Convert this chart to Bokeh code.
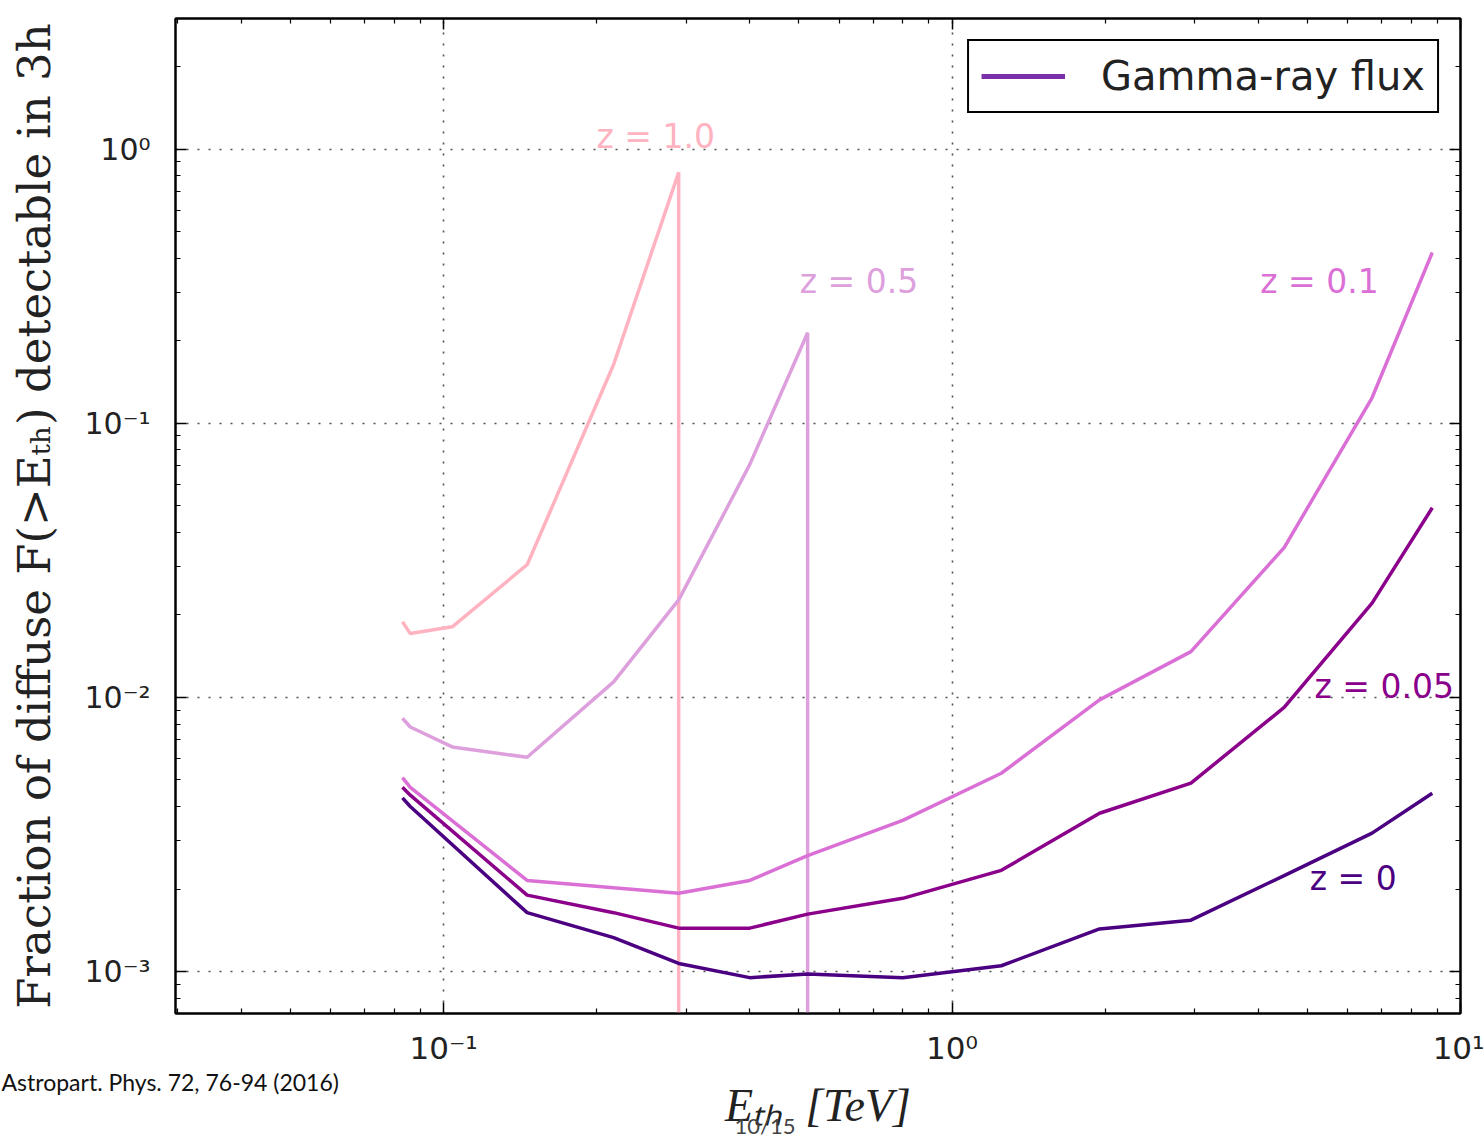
from bokeh.plotting import figure
from bokeh.models import (LogAxis, FixedTicker, Label, Range1d, CustomJSTickFormatter, Title)
from bokeh.embed import file_html
from bokeh.resources import INLINE

# ---------------- data ----------------
E_low = [0.083, 0.086, 0.146, 0.216, 0.29, 0.40, 0.52, 0.80, 1.25, 1.95, 2.95, 4.5, 6.7, 8.8]
F_z0 = [4.3e-3, 4.0e-3, 1.64e-3, 1.33e-3, 1.07e-3, 9.5e-4, 9.8e-4, 9.5e-4, 1.05e-3, 1.43e-3, 1.54e-3, 2.24e-3, 3.2e-3, 4.47e-3]
F_z005 = [4.7e-3, 4.4e-3, 1.90e-3, 1.64e-3, 1.44e-3, 1.44e-3, 1.62e-3, 1.85e-3, 2.34e-3, 3.78e-3, 4.87e-3, 9.2e-3, 0.0221, 0.0492]
F_z01 = [5.1e-3, 4.7e-3, 2.15e-3, 2.02e-3, 1.93e-3, 2.15e-3, 2.65e-3, 3.56e-3, 5.29e-3, 9.8e-3, 0.0147, 0.0352, 0.124, 0.42]

E_z05 = [0.083, 0.086, 0.104, 0.146, 0.216, 0.29, 0.40, 0.52, 0.52]
F_z05 = [8.4e-3, 7.8e-3, 6.6e-3, 6.05e-3, 0.0114, 0.0227, 0.0707, 0.214, 1e-6]

E_z10 = [0.083, 0.086, 0.104, 0.146, 0.216, 0.29, 0.29]
F_z10 = [0.0189, 0.0171, 0.0181, 0.0305, 0.164, 0.824, 1e-6]

series_names = ["z = 0", "z = 0.05", "z = 0.1", "z = 0.5", "z = 1.0"]

x_major = [0.1, 1, 10]
x_minor = [0.03, 0.04, 0.05, 0.06, 0.07, 0.08, 0.09,
           0.2, 0.3, 0.4, 0.5, 0.6, 0.7, 0.8, 0.9,
           2, 3, 4, 5, 6, 7, 8, 9]
y_major = [1e-3, 1e-2, 1e-1, 1]
y_minor = [8e-4, 9e-4,
           2e-3, 3e-3, 4e-3, 5e-3, 6e-3, 7e-3, 8e-3, 9e-3,
           2e-2, 3e-2, 4e-2, 5e-2, 6e-2, 7e-2, 8e-2, 9e-2,
           0.2, 0.3, 0.4, 0.5, 0.6, 0.7, 0.8, 0.9, 2, 3]

legend_text = "Gamma-ray flux"
x_title = "E\u209c\u2095\u2002[TeV]"
y_title = "Fraction of diffuse F(>E\u209c\u2095) detectable in 3h"
citation = "Astropart. Phys. 72, 76-94 (2016)"
page_no = "10/15"

# ---------------- styling ----------------
colors = ["#4b0082", "#8b008b", "#da70d6", "#dda0dd", "#ffb3c0"]
label_pos = [(6.15, 2.19e-3), (7.08, 0.0110), (5.28, 0.330), (0.656, 0.330), (0.2614, 1.116)]

pow_fmt = CustomJSTickFormatter(code="""
const sup = {"-": "\u207b", "0": "\u2070", "1": "\u00b9", "2": "\u00b2", "3": "\u00b3",
             "4": "\u2074", "5": "\u2075", "6": "\u2076", "7": "\u2077", "8": "\u2078", "9": "\u2079"};
const e = Math.round(Math.log10(tick));
return "10" + String(e).split("").map(c => sup[c]).join("");
""")
blank_fmt = CustomJSTickFormatter(code="return '';")

p = figure(x_axis_type="log", y_axis_type="log",
           x_range=Range1d(0.0297, 10.0), y_range=Range1d(7.03e-4, 3.0),
           frame_width=1285, frame_height=995,
           min_border_left=175, min_border_right=24, min_border_top=18, min_border_bottom=127,
           output_backend="svg", toolbar_location=None)
p.background_fill_color = "white"
p.border_fill_color = "white"
p.outline_line_color = "black"
p.outline_line_width = 2

xt = FixedTicker(ticks=x_major, minor_ticks=x_minor)
yt = FixedTicker(ticks=y_major, minor_ticks=y_minor)

def style_axis(ax, font, size):
    ax.axis_line_color = "black"
    ax.axis_line_width = 2
    ax.major_tick_in = 11
    ax.major_tick_out = 0
    ax.minor_tick_in = 5
    ax.minor_tick_out = 0
    ax.major_tick_line_width = 1.5
    ax.minor_tick_line_width = 1.2
    ax.major_label_text_font = font
    ax.major_label_text_font_size = size
    ax.major_label_text_color = "#222222"

xa = p.xaxis[0]
xa.ticker = xt
xa.formatter = pow_fmt
style_axis(xa, "DejaVu Sans", "31px")
xa.major_label_standoff = 16
xa.axis_label = None

ya = p.yaxis[0]
ya.ticker = yt
ya.formatter = pow_fmt
style_axis(ya, "DejaVu Sans", "30px")
ya.major_label_standoff = 25
ya.axis_label = y_title
ya.axis_label_text_font = "DejaVu Serif"
ya.axis_label_text_font_style = "normal"
ya.axis_label_text_font_size = "45px"
ya.axis_label_text_color = "#222222"
ya.axis_label_standoff = 20

for loc, tk in (("right", yt), ("above", xt)):
    ax = LogAxis(ticker=tk, formatter=blank_fmt)
    style_axis(ax, "DejaVu Sans", "10px")
    ax.major_label_standoff = 0
    p.add_layout(ax, loc)

# texts below the x axis (titles are stacked in the bottom panel)
p.add_layout(Title(text=citation, align="left", offset=-174, standoff=-6, vertical_align="bottom",
                   text_font="Lato", text_font_size="23px", text_font_style="normal",
                   text_color="#111111"), "below")
p.add_layout(Title(text=x_title, align="center", standoff=-30, vertical_align="bottom",
                   text_font="Liberation Serif", text_font_size="46px", text_font_style="italic",
                   text_color="#222222"), "below")
p.add_layout(Title(text=page_no, align="left", offset=559, standoff=-12, vertical_align="bottom",
                   text_font="Lato", text_font_size="22px", text_font_style="normal",
                   text_color="#444444"), "below")

for g in (p.xgrid[0], p.ygrid[0]):
    g.grid_line_color = "#333333"
    g.grid_line_alpha = 0.85
    g.grid_line_width = 1.6
    g.grid_line_dash = "2 9"
p.xgrid[0].ticker = xt
p.ygrid[0].ticker = yt

xs = [E_low, E_low, E_low, E_z05, E_z10]
ys = [F_z0, F_z005, F_z01, F_z05, F_z10]
for i in reversed(range(5)):
    p.line(xs[i], ys[i], line_color=colors[i], line_width=3.5)

for name, c, (lx, ly) in zip(series_names, colors, label_pos):
    p.add_layout(Label(x=lx, y=ly, text=name, text_color=c, text_font="DejaVu Sans",
                       text_font_size="33px", text_align="center", text_baseline="middle"))

# legend entry: a one-point line (draws nothing in the plot, only its legend swatch)
p.line(E_low[:1], F_z0[:1], line_color="#7a30a8", line_width=5, legend_label=legend_text)
lg = p.legend[0]
lg.location = "top_right"
lg.margin = 21
lg.padding = 12
lg.border_line_color = "black"
lg.border_line_width = 2
lg.border_line_alpha = 1
lg.background_fill_color = "white"
lg.background_fill_alpha = 1
lg.label_text_font = "DejaVu Sans"
lg.label_text_font_size = "40px"
lg.label_text_color = "#222222"
lg.glyph_width = 84
lg.glyph_height = 40
lg.label_standoff = 36
lg.label_height = 40

open("out.html", "w").write(file_html(p, INLINE))
